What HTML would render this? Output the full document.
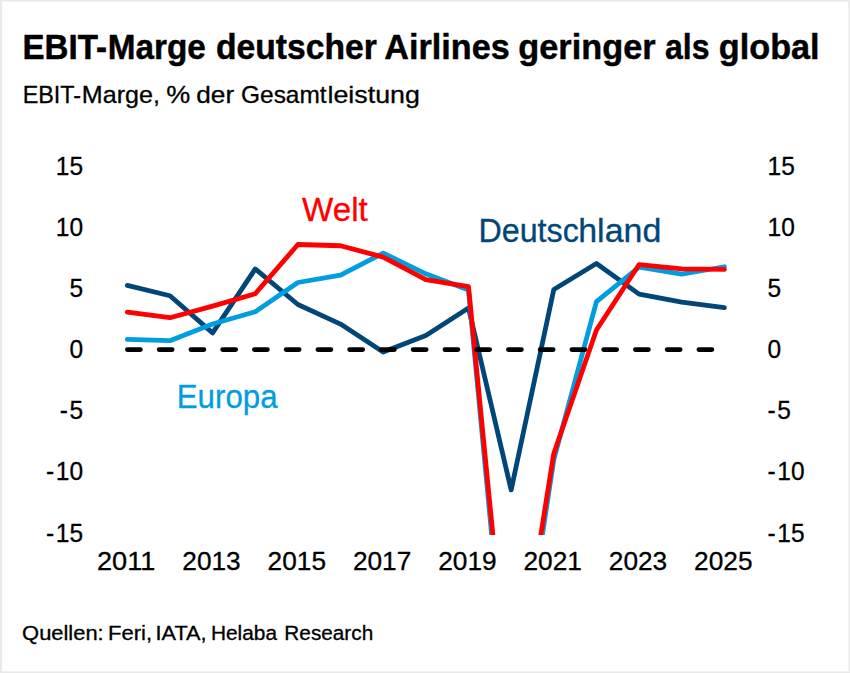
<!DOCTYPE html>
<html lang="de"><head><meta charset="utf-8"><title>EBIT-Marge deutscher Airlines geringer als global</title>
<style>html,body{margin:0;padding:0;background:#fff}svg{display:block}text{font-family:"Liberation Sans", sans-serif;}</style></head><body>
<svg width="850" height="673" viewBox="0 0 850 673">
<rect x="0" y="0" width="850" height="673" fill="#e9e9e9"/>
<rect x="2" y="1" width="847" height="671" fill="#f1f1f1"/>
<rect x="2" y="2" width="846" height="669" fill="#ffffff"/>
<text x="22.44" y="59" font-size="34.5" fill="#000000" text-anchor="start" font-weight="bold" textLength="84.62" lengthAdjust="spacingAndGlyphs" stroke="#000000" stroke-width="0.45" stroke-linejoin="round">EBIT-</text>
<text x="107.63" y="59" font-size="34.5" fill="#000000" text-anchor="start" font-weight="bold" textLength="98.16" lengthAdjust="spacingAndGlyphs" stroke="#000000" stroke-width="0.45" stroke-linejoin="round">Marge</text>
<text x="215.98" y="59" font-size="34.5" fill="#000000" text-anchor="start" font-weight="bold" textLength="160.8" lengthAdjust="spacingAndGlyphs" stroke="#000000" stroke-width="0.45" stroke-linejoin="round">deutscher</text>
<text x="384.36" y="59" font-size="34.5" fill="#000000" text-anchor="start" font-weight="bold" textLength="125.33" lengthAdjust="spacingAndGlyphs" stroke="#000000" stroke-width="0.45" stroke-linejoin="round">Airlines</text>
<text x="518.36" y="59" font-size="34.5" fill="#000000" text-anchor="start" font-weight="bold" textLength="137.19" lengthAdjust="spacingAndGlyphs" stroke="#000000" stroke-width="0.45" stroke-linejoin="round">geringer</text>
<text x="665.07" y="59" font-size="34.5" fill="#000000" text-anchor="start" font-weight="bold" textLength="44.49" lengthAdjust="spacingAndGlyphs" stroke="#000000" stroke-width="0.45" stroke-linejoin="round">als</text>
<text x="718.86" y="59" font-size="34.5" fill="#000000" text-anchor="start" font-weight="bold" textLength="100.76" lengthAdjust="spacingAndGlyphs" stroke="#000000" stroke-width="0.45" stroke-linejoin="round">global</text>
<text x="22.65" y="102.8" font-size="24" fill="#000000" text-anchor="start" font-weight="normal" textLength="58.44" lengthAdjust="spacingAndGlyphs" stroke="#000000" stroke-width="0.3" stroke-linejoin="round">EBIT-</text>
<text x="81.81" y="102.8" font-size="24" fill="#000000" text-anchor="start" font-weight="normal" textLength="78.09" lengthAdjust="spacingAndGlyphs" stroke="#000000" stroke-width="0.3" stroke-linejoin="round">Marge,</text>
<text x="166.16" y="102.8" font-size="24" fill="#000000" text-anchor="start" font-weight="normal" textLength="23.99" lengthAdjust="spacingAndGlyphs" stroke="#000000" stroke-width="0.3" stroke-linejoin="round">%</text>
<text x="196.31" y="102.8" font-size="24" fill="#000000" text-anchor="start" font-weight="normal" textLength="37.87" lengthAdjust="spacingAndGlyphs" stroke="#000000" stroke-width="0.3" stroke-linejoin="round">der</text>
<text x="241.03" y="102.8" font-size="24" fill="#000000" text-anchor="start" font-weight="normal" textLength="85.61" lengthAdjust="spacingAndGlyphs" stroke="#000000" stroke-width="0.3" stroke-linejoin="round">Gesamt</text>
<text x="327.53" y="102.8" font-size="24" fill="#000000" text-anchor="start" font-weight="normal" textLength="92.33" lengthAdjust="spacingAndGlyphs" stroke="#000000" stroke-width="0.3" stroke-linejoin="round">leistung</text>
<text x="302.14" y="220.7" font-size="32.4" fill="#FF0000" text-anchor="start" font-weight="normal" textLength="65.66" lengthAdjust="spacingAndGlyphs" stroke="#FF0000" stroke-width="0.3" stroke-linejoin="round">Welt</text>
<text x="478.41" y="242.1" font-size="32.4" fill="#004678" text-anchor="start" font-weight="normal" textLength="100.4" lengthAdjust="spacingAndGlyphs" stroke="#004678" stroke-width="0.3" stroke-linejoin="round">Deutsc</text>
<text x="578.24" y="242.1" font-size="32.4" fill="#004678" text-anchor="start" font-weight="normal" textLength="83.07" lengthAdjust="spacingAndGlyphs" stroke="#004678" stroke-width="0.3" stroke-linejoin="round">hland</text>
<text x="176.79" y="407.8" font-size="32.4" fill="#009DE0" text-anchor="start" font-weight="normal" textLength="100.77" lengthAdjust="spacingAndGlyphs" stroke="#009DE0" stroke-width="0.3" stroke-linejoin="round">Europa</text>
<text x="22.1" y="640.4" font-size="20" fill="#000000" text-anchor="start" font-weight="normal" textLength="81.61" lengthAdjust="spacingAndGlyphs" stroke="#000000" stroke-width="0.3" stroke-linejoin="round">Quellen:</text>
<text x="108.05" y="640.4" font-size="20" fill="#000000" text-anchor="start" font-weight="normal" textLength="43.97" lengthAdjust="spacingAndGlyphs" stroke="#000000" stroke-width="0.3" stroke-linejoin="round">Feri,</text>
<text x="155.5" y="640.4" font-size="20" fill="#000000" text-anchor="start" font-weight="normal" textLength="51.05" lengthAdjust="spacingAndGlyphs" stroke="#000000" stroke-width="0.3" stroke-linejoin="round">IATA,</text>
<text x="210.94" y="640.4" font-size="20" fill="#000000" text-anchor="start" font-weight="normal" textLength="66.05" lengthAdjust="spacingAndGlyphs" stroke="#000000" stroke-width="0.3" stroke-linejoin="round">Helaba</text>
<text x="284.34" y="640.4" font-size="20" fill="#000000" text-anchor="start" font-weight="normal" textLength="88.91" lengthAdjust="spacingAndGlyphs" stroke="#000000" stroke-width="0.3" stroke-linejoin="round">Research</text>
<text x="55.86" y="174.9" font-size="25.5" fill="#000000" text-anchor="start" font-weight="normal" textLength="27.24" lengthAdjust="spacingAndGlyphs" stroke="#000000" stroke-width="0.3" stroke-linejoin="round">15</text>
<text x="767.6" y="174.9" font-size="25.5" fill="#000000" text-anchor="start" font-weight="normal" textLength="27.24" lengthAdjust="spacingAndGlyphs" stroke="#000000" stroke-width="0.3" stroke-linejoin="round">15</text>
<text x="55.86" y="236.0" font-size="25.5" fill="#000000" text-anchor="start" font-weight="normal" textLength="27.24" lengthAdjust="spacingAndGlyphs" stroke="#000000" stroke-width="0.3" stroke-linejoin="round">10</text>
<text x="767.6" y="236.0" font-size="25.5" fill="#000000" text-anchor="start" font-weight="normal" textLength="27.24" lengthAdjust="spacingAndGlyphs" stroke="#000000" stroke-width="0.3" stroke-linejoin="round">10</text>
<text x="69.48" y="297.1" font-size="25.5" fill="#000000" text-anchor="start" font-weight="normal" textLength="13.62" lengthAdjust="spacingAndGlyphs" stroke="#000000" stroke-width="0.3" stroke-linejoin="round">5</text>
<text x="767.6" y="297.1" font-size="25.5" fill="#000000" text-anchor="start" font-weight="normal" textLength="13.62" lengthAdjust="spacingAndGlyphs" stroke="#000000" stroke-width="0.3" stroke-linejoin="round">5</text>
<text x="69.48" y="358.2" font-size="25.5" fill="#000000" text-anchor="start" font-weight="normal" textLength="13.62" lengthAdjust="spacingAndGlyphs" stroke="#000000" stroke-width="0.3" stroke-linejoin="round">0</text>
<text x="767.6" y="358.2" font-size="25.5" fill="#000000" text-anchor="start" font-weight="normal" textLength="13.62" lengthAdjust="spacingAndGlyphs" stroke="#000000" stroke-width="0.3" stroke-linejoin="round">0</text>
<text x="69.48" y="419.3" font-size="25.5" fill="#000000" text-anchor="start" font-weight="normal" textLength="13.62" lengthAdjust="spacingAndGlyphs" stroke="#000000" stroke-width="0.3" stroke-linejoin="round">5</text>
<text x="59.72" y="419.3" font-size="25.5" fill="#000000" text-anchor="start" font-weight="normal" textLength="8.16" lengthAdjust="spacingAndGlyphs" stroke="#000000" stroke-width="0.3" stroke-linejoin="round">-</text>
<text x="767.6" y="419.3" font-size="25.5" fill="#000000" text-anchor="start" font-weight="normal" textLength="8.16" lengthAdjust="spacingAndGlyphs" stroke="#000000" stroke-width="0.3" stroke-linejoin="round">-</text>
<text x="777.36" y="419.3" font-size="25.5" fill="#000000" text-anchor="start" font-weight="normal" textLength="13.62" lengthAdjust="spacingAndGlyphs" stroke="#000000" stroke-width="0.3" stroke-linejoin="round">5</text>
<text x="55.86" y="480.4" font-size="25.5" fill="#000000" text-anchor="start" font-weight="normal" textLength="27.24" lengthAdjust="spacingAndGlyphs" stroke="#000000" stroke-width="0.3" stroke-linejoin="round">10</text>
<text x="46.1" y="480.4" font-size="25.5" fill="#000000" text-anchor="start" font-weight="normal" textLength="8.16" lengthAdjust="spacingAndGlyphs" stroke="#000000" stroke-width="0.3" stroke-linejoin="round">-</text>
<text x="767.6" y="480.4" font-size="25.5" fill="#000000" text-anchor="start" font-weight="normal" textLength="8.16" lengthAdjust="spacingAndGlyphs" stroke="#000000" stroke-width="0.3" stroke-linejoin="round">-</text>
<text x="777.36" y="480.4" font-size="25.5" fill="#000000" text-anchor="start" font-weight="normal" textLength="27.24" lengthAdjust="spacingAndGlyphs" stroke="#000000" stroke-width="0.3" stroke-linejoin="round">10</text>
<text x="55.86" y="541.5" font-size="25.5" fill="#000000" text-anchor="start" font-weight="normal" textLength="27.24" lengthAdjust="spacingAndGlyphs" stroke="#000000" stroke-width="0.3" stroke-linejoin="round">15</text>
<text x="46.1" y="541.5" font-size="25.5" fill="#000000" text-anchor="start" font-weight="normal" textLength="8.16" lengthAdjust="spacingAndGlyphs" stroke="#000000" stroke-width="0.3" stroke-linejoin="round">-</text>
<text x="767.6" y="541.5" font-size="25.5" fill="#000000" text-anchor="start" font-weight="normal" textLength="8.16" lengthAdjust="spacingAndGlyphs" stroke="#000000" stroke-width="0.3" stroke-linejoin="round">-</text>
<text x="777.36" y="541.5" font-size="25.5" fill="#000000" text-anchor="start" font-weight="normal" textLength="27.24" lengthAdjust="spacingAndGlyphs" stroke="#000000" stroke-width="0.3" stroke-linejoin="round">15</text>
<text x="97.01" y="570.3" font-size="25.5" fill="#000000" text-anchor="start" font-weight="normal" textLength="58.4" lengthAdjust="spacingAndGlyphs" stroke="#000000" stroke-width="0.3" stroke-linejoin="round">2011</text>
<text x="182.31" y="570.3" font-size="25.5" fill="#000000" text-anchor="start" font-weight="normal" textLength="58.4" lengthAdjust="spacingAndGlyphs" stroke="#000000" stroke-width="0.3" stroke-linejoin="round">2013</text>
<text x="267.61" y="570.3" font-size="25.5" fill="#000000" text-anchor="start" font-weight="normal" textLength="58.4" lengthAdjust="spacingAndGlyphs" stroke="#000000" stroke-width="0.3" stroke-linejoin="round">2015</text>
<text x="352.91" y="570.3" font-size="25.5" fill="#000000" text-anchor="start" font-weight="normal" textLength="58.4" lengthAdjust="spacingAndGlyphs" stroke="#000000" stroke-width="0.3" stroke-linejoin="round">2017</text>
<text x="438.21" y="570.3" font-size="25.5" fill="#000000" text-anchor="start" font-weight="normal" textLength="58.4" lengthAdjust="spacingAndGlyphs" stroke="#000000" stroke-width="0.3" stroke-linejoin="round">2019</text>
<text x="523.51" y="570.3" font-size="25.5" fill="#000000" text-anchor="start" font-weight="normal" textLength="58.4" lengthAdjust="spacingAndGlyphs" stroke="#000000" stroke-width="0.3" stroke-linejoin="round">2021</text>
<text x="608.81" y="570.3" font-size="25.5" fill="#000000" text-anchor="start" font-weight="normal" textLength="58.4" lengthAdjust="spacingAndGlyphs" stroke="#000000" stroke-width="0.3" stroke-linejoin="round">2023</text>
<text x="694.11" y="570.3" font-size="25.5" fill="#000000" text-anchor="start" font-weight="normal" textLength="58.4" lengthAdjust="spacingAndGlyphs" stroke="#000000" stroke-width="0.3" stroke-linejoin="round">2025</text>
<defs><clipPath id="plot"><rect x="100" y="150" width="650" height="385.0"/></clipPath></defs>
<g clip-path="url(#plot)" fill="none" stroke-linecap="round" stroke-linejoin="round">
<polyline points="127.30,285.45 169.95,295.71 212.60,332.86 255.25,268.95 297.90,304.51 340.55,324.06 383.20,352.04 425.85,335.55 468.50,308.05 511.15,489.89 553.80,289.48 596.45,263.45 639.10,294.12 681.75,302.06 724.40,307.69" stroke="#004678" stroke-width="4.8"/>
<polyline points="127.30,339.46 169.95,340.68 212.60,324.06 255.25,311.72 297.90,282.51 340.55,275.06 383.20,253.06 425.85,273.84 468.50,290.09 511.15,740.64 553.80,459.58 596.45,301.70 639.10,267.12 681.75,274.20 724.40,266.75" stroke="#009DE0" stroke-width="4.8"/>
<polyline points="127.30,312.08 169.95,317.71 212.60,306.10 255.25,293.75 297.90,244.51 340.55,245.73 383.20,257.09 425.85,279.70 468.50,286.67 511.15,721.09 553.80,453.47 596.45,330.05 639.10,264.55 681.75,268.83 724.40,269.44" stroke="#FF0000" stroke-width="4.8"/>
<line x1="127.4" y1="349.6" x2="724.40" y2="349.6" stroke="#000" stroke-width="4.8" stroke-dasharray="13.0 18.75"/>
</g>
</svg></body></html>
